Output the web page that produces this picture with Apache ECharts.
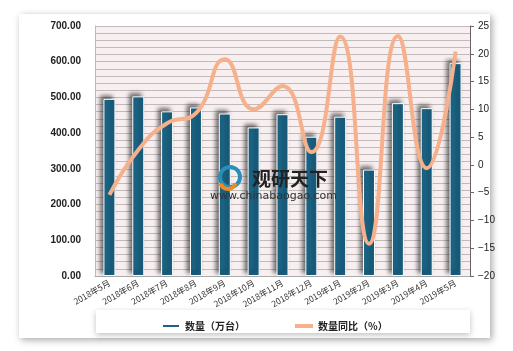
<!DOCTYPE html>
<html><head><meta charset="utf-8">
<script src="https://cdn.jsdelivr.net/npm/echarts@6/dist/echarts.min.js"></script>
<style>html,body{margin:0;padding:0;background:#fff}#c{width:513px;height:351px}</style>
</head><body><div id="c"></div>
<script>
const categories = ['2018年5月','2018年6月','2018年7月','2018年8月','2018年9月','2018年10月','2018年11月','2018年12月','2019年1月','2019年2月','2019年3月','2019年4月','2019年5月'];
const volume = [496, 503, 461, 472, 455, 416, 453, 390, 446, 298, 484, 470, 596];
const yoy = [-5.4, 2.7, 7.5, 9.3, 19.0, 10.0, 14.2, 2.3, 23.1, -14.2, 23.2, -0.6, 20.4];
const seriesNames = ['数量（万台）', '数量同比（%）'];

const chart = echarts.init(document.getElementById('c'), null, {renderer: 'canvas'});
chart.setOption({
  animation: false,
  backgroundColor: '#fff',
  graphic: [
    {type: 'rect', z: -100, shape: {x: 19, y: 14, width: 471, height: 324},
     style: {fill: '#fff', shadowBlur: 7, shadowColor: 'rgba(0,0,0,0.35)', shadowOffsetX: 2, shadowOffsetY: 2}},
    {type: 'rect', z: -50, shape: {x: 96, y: 310, width: 374, height: 23},
     style: {fill: '#fff', shadowBlur: 6, shadowColor: 'rgba(0,0,0,0.25)', shadowOffsetX: 0, shadowOffsetY: 2}},
    {type: 'text', z: 100, left: 252, top: 169,
     style: {text: '观研天下', fill: '#222', font: 'bold 19px "Noto Sans CJK SC"'}},
    {type: 'text', z: 100, left: 210, top: 191,
     style: {text: 'www.chinabaogao.com', fill: '#333', font: '11px "DejaVu Sans", sans-serif'}},
    {type: 'circle', z: 100, shape: {cx: 230, cy: 177, r: 10},
     style: {fill: 'none', stroke: '#2a8fb8', lineWidth: 4}},
    {type: 'arc', z: 101, shape: {cx: 228, cy: 181, r: 8, startAngle: 0.3, endAngle: 2.8},
     style: {fill: 'none', stroke: '#f08c1e', lineWidth: 4}}
  ],
  grid: {left: 95, right: 43, top: 26, bottom: 75, show: true, backgroundColor: '#f8f0f0', borderWidth: 0},
  legend: {
    left: 156, top: 316, itemGap: 50, itemWidth: 18, itemHeight: 4, icon: 'rect',
    textStyle: {fontSize: 10, fontWeight: 'bold', color: '#222', fontFamily: '"Noto Sans CJK SC"'},
    data: seriesNames
  },
  xAxis: {
    type: 'category', data: categories,
    axisLine: {lineStyle: {color: '#aaa'}}, axisTick: {show: false},
    axisLabel: {interval: 0, rotate: 30, fontSize: 8.5, color: '#333', margin: 6, fontFamily: '"Noto Sans CJK SC"'}
  },
  yAxis: [
    {type: 'value', min: 0, max: 700, interval: 100,
     axisLine: {show: true, lineStyle: {color: '#bbb'}}, axisTick: {show: false},
     axisLabel: {formatter: v => v.toFixed(2), fontSize: 10, fontWeight: 'bold', color: '#222', margin: 14, fontFamily: 'Arial, "Liberation Sans"'},
     splitLine: {lineStyle: {color: '#c2baba', width: 1}},
     minorTick: {show: false, splitNumber: 5},
     minorSplitLine: {show: true, lineStyle: {color: '#c2baba', width: 1}}
    },
    {type: 'value', min: -20, max: 25, interval: 5,
     axisLine: {show: true, lineStyle: {color: '#666'}},
     axisTick: {show: true, length: 4, lineStyle: {color: '#666'}},
     axisLabel: {formatter: v => String(v).replace('-', '\u2212'), fontSize: 10, color: '#222', margin: 8, fontFamily: 'Arial, "Liberation Sans"'},
     splitLine: {show: false}
    }
  ],
  series: [
    {name: seriesNames[0], type: 'bar', data: volume, barWidth: 12,
     itemStyle: {color: '#1b6384', borderColor: '#fff', borderWidth: 1,
       shadowColor: 'rgba(0,0,0,0.55)', shadowBlur: 4, shadowOffsetX: -3, shadowOffsetY: -3}},
    {name: seriesNames[1], type: 'line', yAxisIndex: 1, data: yoy, smooth: 0.5,
     symbol: 'none', lineStyle: {color: '#f6b08b', width: 4}, itemStyle: {color: '#f6b08b'}}
  ]
});
</script></body></html>
